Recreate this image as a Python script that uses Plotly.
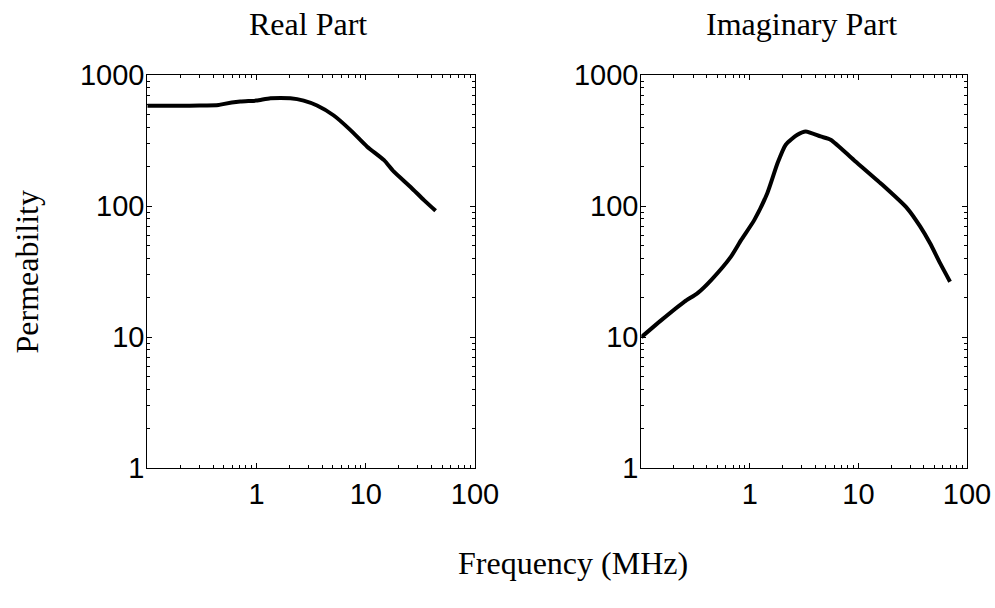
import plotly.graph_objects as go

# Real part of permeability
real_freq = [0.1, 0.2, 0.3, 0.45, 0.48, 0.71, 1.0, 1.34, 2.04, 2.7, 3.58, 5.1, 7.25, 10.3, 14.7, 18.1, 25.7, 34.1, 43.6]
real_perm = [583, 583, 584, 590, 597, 627, 638, 664, 664, 638, 585, 491, 380, 284, 224, 183, 140, 111, 92]

# Imaginary part of permeability
imag_freq = [0.1, 0.153, 0.25, 0.33, 0.44, 0.67, 0.83, 1.1, 1.45, 1.8, 2.14, 2.74, 3.27, 4.48, 5.54, 9.06, 15.9, 28, 37, 45.7, 56.5, 69.8]
imag_perm = [10.0, 13.5, 18.7, 21.7, 27.3, 41.2, 55, 78.5, 126, 213, 294, 350, 371, 340, 321, 225, 150, 96.6, 70, 52, 36.7, 26.5]

subplot_titles = ["Real Part", "Imaginary Part"]
x_title = "Frequency (MHz)"
y_title = "Permeability"

x_tickvals = [1, 10, 100]
x_ticktext = ["1", "10", "100"]
y_tickvals = [1, 10, 100, 1000]
y_ticktext = ["1", "10", "100", "1000"]
x_minor = [0.2, 0.3, 0.4, 0.5, 0.6, 0.7, 0.8, 0.9, 2, 3, 4, 5, 6, 7, 8, 9, 20, 30, 40, 50, 60, 70, 80, 90]
y_minor = [2, 3, 4, 5, 6, 7, 8, 9, 20, 30, 40, 50, 60, 70, 80, 90, 200, 300, 400, 500, 600, 700, 800, 900]

fig = go.Figure()
fig.add_trace(go.Scatter(x=real_freq, y=real_perm, mode="lines",
                         line=dict(color="black", width=4, shape="spline", smoothing=0.6),
                         xaxis="x", yaxis="y", showlegend=False))
fig.add_trace(go.Scatter(x=imag_freq, y=imag_perm, mode="lines",
                         line=dict(color="black", width=4, shape="spline", smoothing=0.6),
                         xaxis="x2", yaxis="y2", showlegend=False))

W, H = 995, 608


def px_x(p):
    return p / W


def px_y(p):
    return 1 - p / H


L_dom = [px_x(147.3), px_x(475)]
R_dom = [px_x(641.3), px_x(967)]
Y_dom = [px_y(468.3), px_y(75)]

tickfont = dict(family="Liberation Sans, Arial, sans-serif", size=29, color="black")


def xax(domain, anchor):
    return dict(type="log", range=[-1, 2], domain=domain, anchor=anchor, automargin=False,
                showline=True, linecolor="black", linewidth=1, mirror="ticks",
                ticks="inside", ticklen=5, tickcolor="black", tickwidth=1,
                tickvals=x_tickvals, ticktext=x_ticktext, tickfont=tickfont,
                showgrid=False, zeroline=False,
                minor=dict(ticks="inside", ticklen=3, tickcolor="black",
                           tickvals=x_minor, showgrid=False))


def yax(domain, anchor):
    return dict(type="log", range=[0, 3], domain=domain, anchor=anchor, automargin=False,
                showline=True, linecolor="black", linewidth=1, mirror="ticks",
                ticks="inside", ticklen=5, tickcolor="black", tickwidth=1,
                tickvals=y_tickvals, ticktext=y_ticktext, tickfont=tickfont,
                ticklabelstandoff=-4,
                showgrid=False, zeroline=False,
                minor=dict(ticks="inside", ticklen=3, tickcolor="black",
                           tickvals=y_minor, showgrid=False))


serif = dict(family="Liberation Serif, Times New Roman, serif", size=32, color="black")

fig.update_layout(
    width=W, height=H,
    margin=dict(l=0, r=0, t=0, b=0, autoexpand=False),
    paper_bgcolor="white", plot_bgcolor="white",
    xaxis=xax(L_dom, "y"), yaxis=yax(Y_dom, "x"),
    xaxis2=xax(R_dom, "y2"), yaxis2=yax(Y_dom, "x2"),
    annotations=[
        dict(text=subplot_titles[0], x=px_x(307.5), y=px_y(24), xref="paper", yref="paper",
             showarrow=False, font=serif, xanchor="center", yanchor="middle"),
        dict(text=subplot_titles[1], x=px_x(801), y=px_y(24), xref="paper", yref="paper",
             showarrow=False, font=serif, xanchor="center", yanchor="middle"),
        dict(text=x_title, x=px_x(573), y=px_y(563), xref="paper", yref="paper",
             showarrow=False, font=serif, xanchor="center", yanchor="middle"),
        dict(text=y_title, x=px_x(26), y=px_y(271.5), xref="paper", yref="paper",
             showarrow=False, font=serif, textangle=-90, xanchor="center", yanchor="middle"),
    ],
)

fig.write_html("out.html", config={"displayModeBar": False},
               post_script="document.body.style.margin='0';")
